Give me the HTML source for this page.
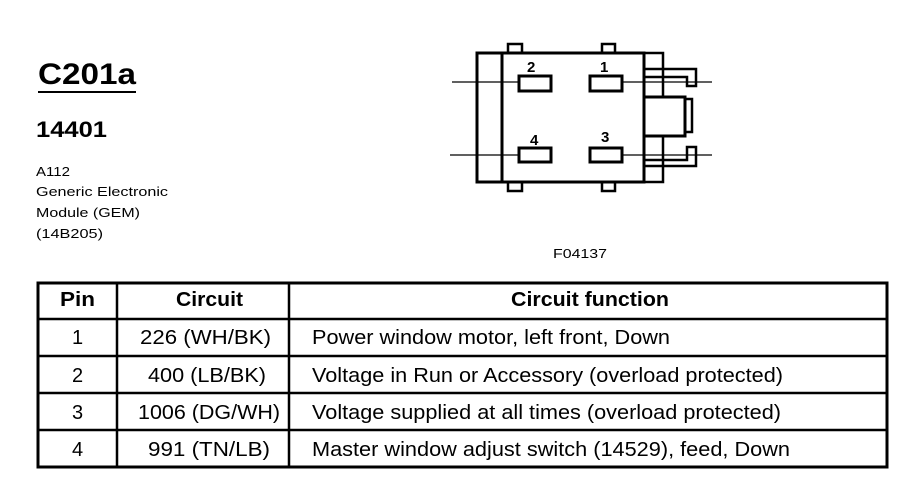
<!DOCTYPE html>
<html><head><meta charset="utf-8"><style>
html,body{margin:0;padding:0;background:#fff}
svg text{font-family:"Liberation Sans",Arial,sans-serif;fill:#000}
</style></head><body>
<svg width="900" height="480" viewBox="0 0 900 480" xmlns="http://www.w3.org/2000/svg">
<text x="38" y="84" font-size="30" font-weight="bold" textLength="98" lengthAdjust="spacingAndGlyphs">C201a</text>
<line x1="38" y1="92" x2="136" y2="92" stroke="#000" stroke-width="2"/>
<text x="36" y="137" font-size="22" font-weight="bold" textLength="71" lengthAdjust="spacingAndGlyphs">14401</text>
<text x="36" y="176" font-size="13" textLength="34" lengthAdjust="spacingAndGlyphs">A112</text>
<text x="36" y="196" font-size="13" textLength="132" lengthAdjust="spacingAndGlyphs">Generic Electronic</text>
<text x="36" y="217" font-size="13" textLength="104" lengthAdjust="spacingAndGlyphs">Module (GEM)</text>
<text x="36" y="238" font-size="13" textLength="67" lengthAdjust="spacingAndGlyphs">(14B205)</text>

<g stroke="#000" fill="none">
<line x1="452" y1="82" x2="518" y2="82" stroke-width="1.3"/>
<line x1="622" y1="82" x2="712" y2="82" stroke-width="1.3"/>
<line x1="450" y1="155" x2="518" y2="155" stroke-width="1.3"/>
<line x1="622" y1="155" x2="712" y2="155" stroke-width="1.3"/>
<rect x="508" y="44" width="14" height="9" stroke-width="2.5" fill="#fff"/>
<rect x="602" y="44" width="13" height="9" stroke-width="2.5" fill="#fff"/>
<rect x="508" y="182" width="14" height="9" stroke-width="2.5" fill="#fff"/>
<rect x="602" y="182" width="13" height="9" stroke-width="2.5" fill="#fff"/>
<rect x="477" y="53" width="167" height="129" stroke-width="3"/>
<line x1="502" y1="53" x2="502" y2="182" stroke-width="3"/>
<rect x="644" y="53" width="19" height="129" stroke-width="2.5"/>
<path d="M644 69 H696 V86 H687 V77 H644" stroke-width="2.5"/>
<path d="M644 166 H696 V147 H687 V160 H644" stroke-width="2.5"/>
<rect x="644" y="97" width="41" height="39" stroke-width="3" fill="#fff"/>
<rect x="685" y="99" width="7" height="33" stroke-width="2.5"/>
<rect x="519" y="76" width="32" height="15" stroke-width="3" fill="#fff"/>
<rect x="590" y="76" width="32" height="15" stroke-width="3" fill="#fff"/>
<rect x="519" y="148" width="32" height="14" stroke-width="3" fill="#fff"/>
<rect x="590" y="148" width="32" height="14" stroke-width="3" fill="#fff"/>
</g>
<text x="527" y="72" font-size="15" font-weight="bold">2</text>
<text x="600" y="72" font-size="15" font-weight="bold">1</text>
<text x="530" y="145" font-size="15" font-weight="bold">4</text>
<text x="601" y="142" font-size="15" font-weight="bold">3</text>
<text x="553" y="258" font-size="13" textLength="54" lengthAdjust="spacingAndGlyphs">F04137</text>

<g stroke="#000" fill="none">
<rect x="38" y="283" width="849" height="184" stroke-width="3"/>
<line x1="38" y1="319" x2="887" y2="319" stroke-width="2.5"/>
<line x1="38" y1="356" x2="887" y2="356" stroke-width="2.5"/>
<line x1="38" y1="393" x2="887" y2="393" stroke-width="2.5"/>
<line x1="38" y1="430" x2="887" y2="430" stroke-width="2.5"/>
<line x1="117" y1="283" x2="117" y2="467" stroke-width="2.5"/>
<line x1="289" y1="283" x2="289" y2="467" stroke-width="2.5"/>
</g>
<g font-size="20">
<text x="60" y="306" font-weight="bold" textLength="35" lengthAdjust="spacingAndGlyphs">Pin</text>
<text x="176" y="306" font-weight="bold" textLength="67" lengthAdjust="spacingAndGlyphs">Circuit</text>
<text x="511" y="306" font-weight="bold" textLength="158" lengthAdjust="spacingAndGlyphs">Circuit function</text>
<text x="72" y="344">1</text>
<text x="72" y="382">2</text>
<text x="72" y="419">3</text>
<text x="72" y="456">4</text>
<text x="140" y="344" textLength="131" lengthAdjust="spacingAndGlyphs">226 (WH/BK)</text>
<text x="148" y="382" textLength="118" lengthAdjust="spacingAndGlyphs">400 (LB/BK)</text>
<text x="138" y="419" textLength="142" lengthAdjust="spacingAndGlyphs">1006 (DG/WH)</text>
<text x="148" y="456" textLength="122" lengthAdjust="spacingAndGlyphs">991 (TN/LB)</text>
<text x="312" y="344" textLength="358" lengthAdjust="spacingAndGlyphs">Power window motor, left front, Down</text>
<text x="312" y="382" textLength="471" lengthAdjust="spacingAndGlyphs">Voltage in Run or Accessory (overload protected)</text>
<text x="312" y="419" textLength="469" lengthAdjust="spacingAndGlyphs">Voltage supplied at all times (overload protected)</text>
<text x="312" y="456" textLength="478" lengthAdjust="spacingAndGlyphs">Master window adjust switch (14529), feed, Down</text>
</g>
</svg>
</body></html>
